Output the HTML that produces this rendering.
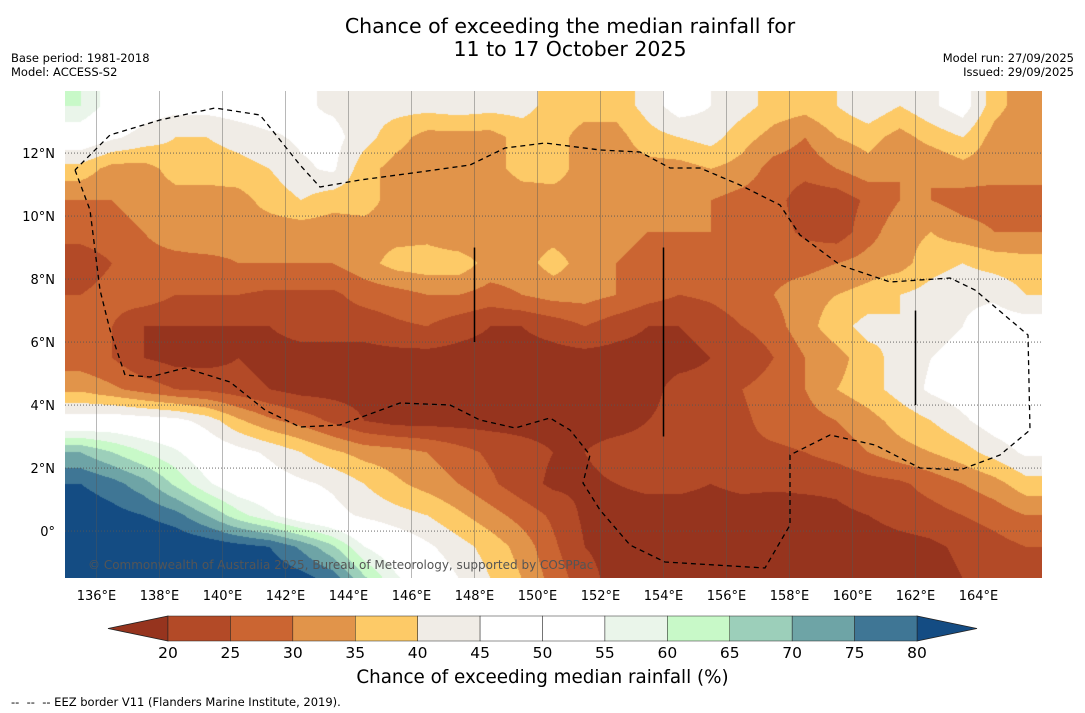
<!DOCTYPE html>
<html><head><meta charset="utf-8">
<style>
body{margin:0;background:#fff;font-family:"DejaVu Sans","Liberation Sans",sans-serif;}
#wrap{position:relative;width:1085px;height:713px;overflow:hidden;}
.t{position:absolute;white-space:nowrap;color:#000;}
</style></head><body>
<div id="wrap">
<div class="t" style="left:270px;width:600px;text-align:center;top:15px;font-size:20.5px;line-height:23px;">Chance of exceeding the median rainfall for<br>11 to 17 October 2025</div>
<div class="t" style="left:11px;top:51px;font-size:11.5px;line-height:14px;">Base period: 1981-2018<br>Model: ACCESS-S2</div>
<div class="t" style="right:11px;top:51px;font-size:11.5px;line-height:14px;text-align:right;">Model run: 27/09/2025<br>Issued: 29/09/2025</div>
<canvas id="map" width="977" height="487" style="position:absolute;left:65px;top:91px;"></canvas>
<svg id="ov" width="1085" height="713" style="position:absolute;left:0;top:0;"></svg>
<div class="t" style="left:88px;top:558px;font-size:12px;color:#555;">© Commonwealth of Australia 2025, Bureau of Meteorology, supported by COSPPac</div>
<div class="t" style="left:0;width:1085px;text-align:center;top:667px;font-size:18.3px;">Chance of exceeding median rainfall (%)</div>
<div class="t" style="left:11px;top:695px;font-size:11.5px;">--&nbsp; --&nbsp; -- EEZ border V11 (Flanders Marine Institute, 2019).</div>
</div>
<script>
const lons=[135.5,136.5,137.5,138.5,139.5,140.5,141.5,142.5,143.5,144.5,145.5,146.5,147.5,148.5,149.5,150.5,151.5,152.5,153.5,154.5,155.5,156.5,157.5,158.5,159.5,160.5,161.5,162.5,163.5,164.5,165.5];
const lats=[13.5,12.5,11.5,10.5,9.5,8.5,7.5,6.5,5.5,4.5,3.5,2.5,1.5,0.5,-0.5,-1.5];
const values=[
[60,52,48,47,47,48,49,46,44,42,42,42,43,42,42,38,37,37,42,48,45,42,38,37,40,44,40,44,48,37,32],
[50,46,43,40,40,42,44,46,47,42,37,33,33,33,37,37,33,33,38,40,42,37,33,30,35,37,33,37,40,33,30],
[38,33,33,37,37,38,40,44,46,37,33,32,32,33,37,37,33,32,33,33,35,33,28,27,30,33,30,30,33,32,30],
[30,30,32,33,33,33,37,40,37,37,33,33,32,30,32,33,33,32,32,30,30,28,27,22,22,26,30,30,28,28,30],
[27,28,30,33,35,33,32,32,32,33,33,33,30,30,33,33,32,32,30,30,30,28,27,24,22,28,33,35,32,30,30],
[22,25,28,28,28,30,30,30,30,33,37,38,38,33,33,37,33,30,28,27,28,30,28,28,30,32,33,38,40,38,37],
[25,27,28,25,25,25,24,24,24,27,28,30,30,28,30,32,32,30,27,25,26,28,30,33,35,37,40,42,44,44,40],
[27,25,20,20,20,20,20,22,22,22,24,25,22,20,20,22,25,22,20,20,22,25,28,33,38,42,40,42,45,48,48],
[27,25,20,18,18,20,18,18,18,18,18,18,18,18,18,18,18,18,18,18,20,20,25,30,33,38,42,45,48,50,50],
[34,31,28,25,24,22,20,18,18,18,18,18,18,18,18,18,18,18,18,22,22,25,28,30,35,38,42,46,48,50,52],
[48,49,48,47,43,36,31,28,24,20,18,18,18,18,18,18,18,18,20,22,22,24,27,28,30,33,37,40,44,48,50],
[70,65,60,56,50,47,44,40,36,33,32,30,27,24,22,20,20,22,22,23,24,24,24,25,27,30,33,35,38,42,46],
[80,77,72,64,56,50,48,46,44,40,36,33,30,26,22,19,19,20,21,21,20,21,21,21,21,23,24,27,30,33,38],
[84,82,80,77,70,62,56,50,47,44,42,40,36,32,28,24,19,18,18,18,18,18,17,18,19,20,22,23,25,27,30],
[88,87,86,85,84,82,80,74,66,55,50,46,42,38,33,26,20,18,17,17,17,17,17,17,17,17,18,19,21,23,25],
[90,90,89,88,87,86,84,82,78,66,56,50,45,40,35,28,22,18,17,17,17,17,17,17,17,17,17,18,20,20,22]];
const binEdges=[20,25,30,35,40,45,50,55,60,65,70,75,80];
const binColors=['#96341e','#b34a27','#cb6532','#e1944a','#fdca67','#f0ece6','#ffffff','#ffffff','#eaf5ea','#c8f9c8','#9ccfba','#6ea4a6','#3f7695','#144c83'];
const tickLons=[136,138,140,142,144,146,148,150,152,154,156,158,160,162,164];
const tickLats=[12,10,8,6,4,2,0];
const mapL=65,mapT=91,mapW=977,mapH=487,ppd=31.5,lon0=135,lat0=13.97;
const xS=lon=>mapL+(lon-lon0)*ppd, yS=lat=>mapT+(lat0-lat)*ppd;
function hex(c){return [parseInt(c.slice(1,3),16),parseInt(c.slice(3,5),16),parseInt(c.slice(5,7),16)];}
const cv=document.getElementById('map'),ctx=cv.getContext('2d'),img=ctx.createImageData(mapW,mapH);
const rgb=binColors.map(hex);
for(let py=0;py<mapH;py++){const lat=lat0-(py+0.5)/ppd;let fy=(lats[0]-lat);fy=Math.max(0,Math.min(lats.length-1.001,fy));const r0=Math.floor(fy),ty=fy-r0;
for(let px=0;px<mapW;px++){const lon=lon0+(px+0.5)/ppd;let fx=lon-lons[0];fx=Math.max(0,Math.min(lons.length-1.001,fx));const c0=Math.floor(fx),tx=fx-c0;
const v=(values[r0][c0]*(1-tx)+values[r0][c0+1]*tx)*(1-ty)+(values[r0+1][c0]*(1-tx)+values[r0+1][c0+1]*tx)*ty;
let i=0;while(i<binEdges.length&&v>=binEdges[i])i++;const c=rgb[i],k=(py*mapW+px)*4;img.data[k]=c[0];img.data[k+1]=c[1];img.data[k+2]=c[2];img.data[k+3]=255;}}
ctx.putImageData(img,0,0);
const NS='http://www.w3.org/2000/svg',ov=document.getElementById('ov');
function mk(tag,at,parent){const e=document.createElementNS(NS,tag);for(const k in at)e.setAttribute(k,at[k]);(parent||ov).appendChild(e);return e;}
tickLons.forEach(l=>{const x=xS(l);
const g=mk('line',{x1:x,x2:x,y1:mapT,y2:mapT+mapH,stroke:'#555','stroke-width':0.6,'stroke-opacity':0.7});


const t=mk('text',{x:x,y:600,'font-size':13,'text-anchor':'middle','font-family':'DejaVu Sans, sans-serif'});t.textContent=l+'°E';

});
tickLats.forEach(l=>{const y=yS(l);
const g=mk('line',{x1:mapL,x2:mapL+mapW,y1:y,y2:y,stroke:'#555','stroke-width':0.8,'stroke-dasharray':'1,2'});


const t=mk('text',{x:55,y:y+5,'font-size':13,'text-anchor':'end','font-family':'DejaVu Sans, sans-serif'});t.textContent=l===0?'0°':l+'°N';

});
const eez=[[75,170],[90,210],[100,290],[110,330],[125,375],[150,377],[185,368],[230,382],[265,410],[300,427],[340,425],[400,403],[450,405],[480,420],[515,428],[550,418],[570,430],[590,455],[583,483],[600,510],[630,545],[665,562],[765,568],[790,525],[790,455],[830,435],[875,445],[920,468],[960,470],[1000,455],[1030,430],[1028,335],[975,290],[950,278],[890,282],[840,265],[800,235],[780,205],[740,185],[700,168],[670,168],[640,152],[600,150],[545,143],[505,148],[470,165],[420,172],[360,180],[320,187],[300,165],[260,115],[215,108],[160,120],[110,135],[75,170]];
const p=mk('polyline',{points:eez.map(a=>a.join(',')).join(' '),fill:'none',stroke:'#000','stroke-width':1.3,'stroke-dasharray':'5,4'});


[[148,9,6],[154,9,3],[162,7,4]].forEach(s=>{const l=mk('line',{x1:xS(s[0]),x2:xS(s[0]),y1:yS(s[1]),y2:yS(s[2]),stroke:'#000','stroke-width':1.5});

});
const cbL=168,cbR=917,cbT=616,cbB=641,seg=(cbR-cbL)/12;
const lt=mk('polygon',{points:`108,${(cbT+cbB)/2} ${cbL},${cbT} ${cbL},${cbB}`,fill:binColors[0],stroke:'#222','stroke-width':0.8});


const rt=mk('polygon',{points:`977,${(cbT+cbB)/2} ${cbR},${cbT} ${cbR},${cbB}`,fill:binColors[13],stroke:'#222','stroke-width':0.8});


for(let i=0;i<12;i++){const r=mk('rect',{x:cbL+i*seg,y:cbT,width:seg,height:cbB-cbT,fill:binColors[i+1],stroke:'#222','stroke-width':0.5});

}
binEdges.forEach((e,i)=>{const t=mk('text',{x:cbL+i*seg,y:658,'font-size':15.5,'text-anchor':'middle','font-family':'DejaVu Sans, sans-serif'});t.textContent=e;

});
</script>
</body></html>
